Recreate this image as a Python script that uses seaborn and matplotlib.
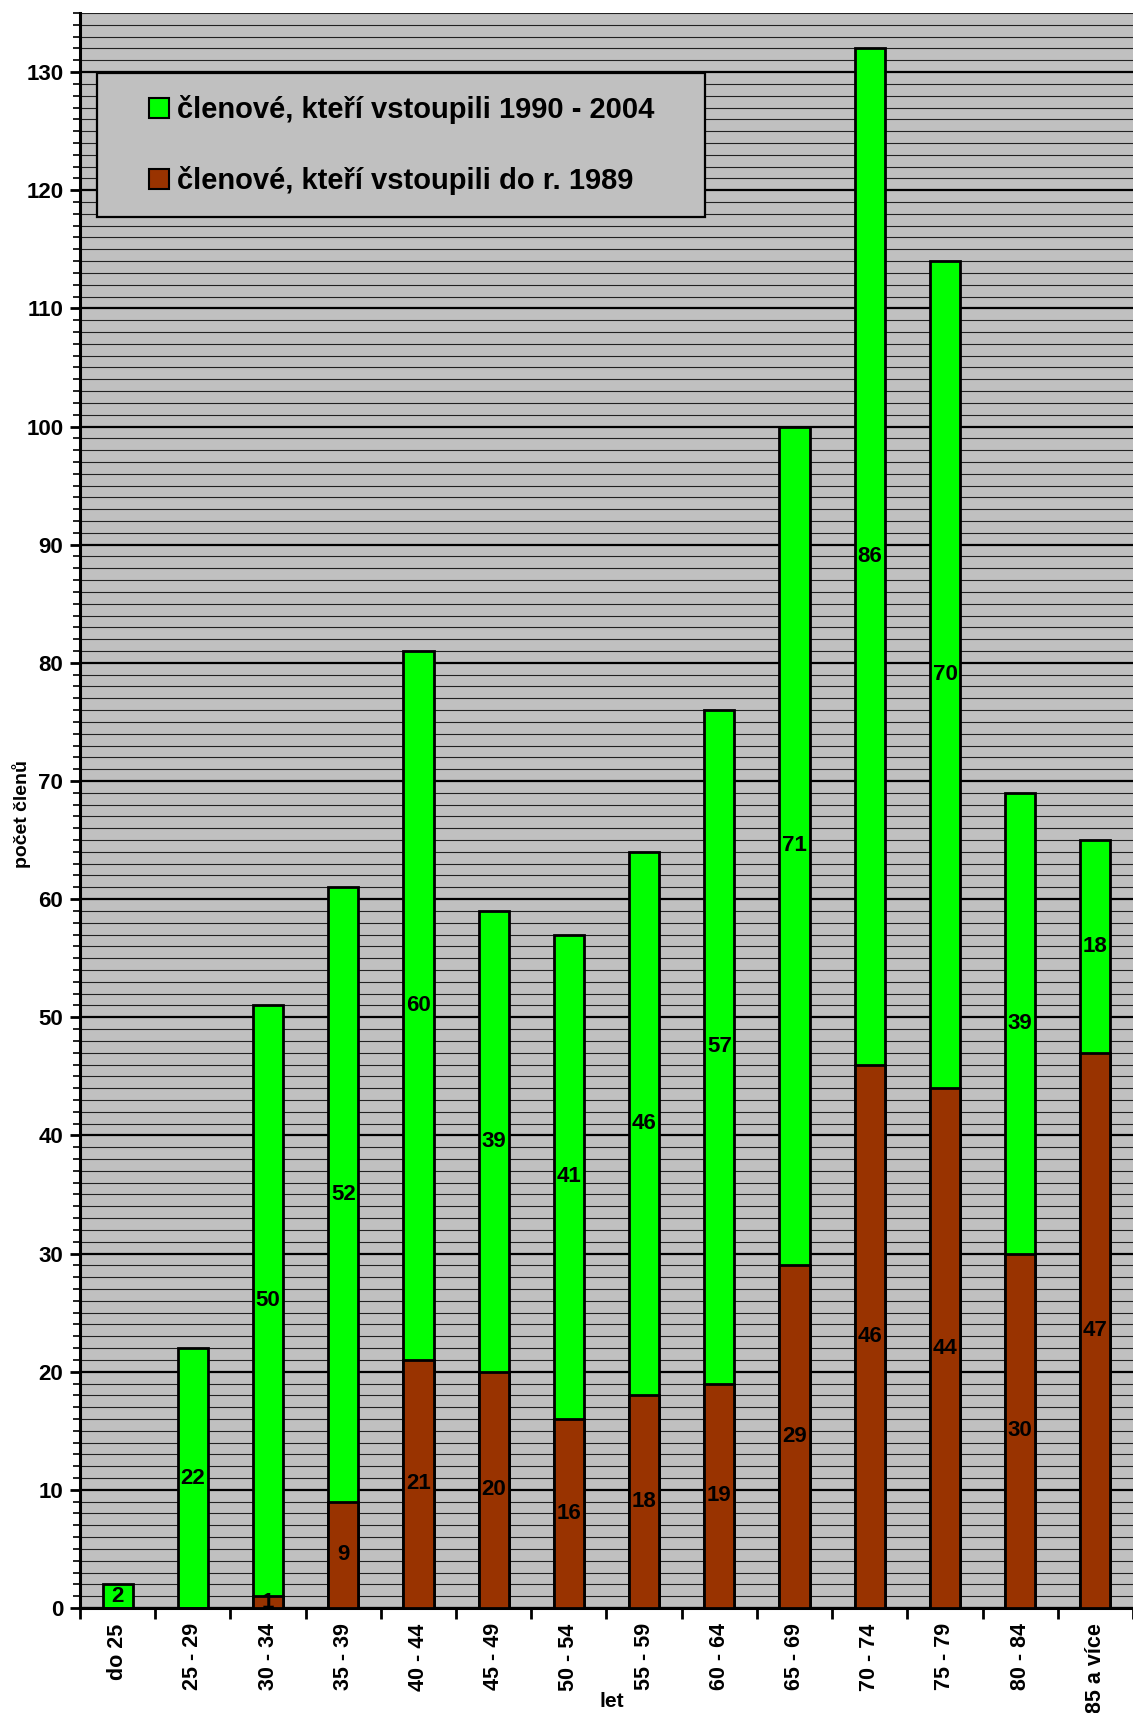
import numpy as np
import pandas as pd
import matplotlib
matplotlib.use("Agg")
import matplotlib.pyplot as plt
from matplotlib.patches import Rectangle
from matplotlib.ticker import MultipleLocator
import seaborn as sns

categories = ['do 25', '25 - 29', '30 - 34', '35 - 39', '40 - 44', '45 - 49', '50 - 54',
              '55 - 59', '60 - 64', '65 - 69', '70 - 74', '75 - 79', '80 - 84', '85 a více']
old_members = [0, 0, 1, 9, 21, 20, 16, 18, 19, 29, 46, 44, 30, 47]
new_members = [2, 22, 50, 52, 60, 39, 41, 46, 57, 71, 86, 70, 39, 18]
label_new = 'členové, kteří vstoupili 1990 - 2004'
label_old = 'členové, kteří vstoupili do r. 1989'

GREEN = '#00FF00'
BROWN = '#993300'

df = pd.DataFrame({'vek': categories, 'stari': old_members, 'novi': new_members})
df['celkem'] = df['stari'] + df['novi']

sns.set_style('white')
plt.rcParams['font.family'] = ['Liberation Sans', 'DejaVu Sans']
plt.rcParams['font.weight'] = 'bold'
plt.rcParams['text.color'] = 'black'
plt.rcParams['axes.labelcolor'] = 'black'
plt.rcParams['xtick.color'] = 'black'
plt.rcParams['ytick.color'] = 'black'

fig = plt.figure(figsize=(11.33, 17.13), dpi=100)
ax = fig.add_axes([0.0706, 0.0613, 0.9294, 0.9311])
ax.set_facecolor('#C0C0C0')

sns.barplot(data=df, x='vek', y='celkem', color=GREEN, saturation=1, width=0.4,
            edgecolor='black', linewidth=2, ax=ax, zorder=3)
sns.barplot(data=df, x='vek', y='stari', color=BROWN, saturation=1, width=0.4,
            edgecolor='black', linewidth=2, ax=ax, zorder=3)

# value labels centred in segments
for i, row in df.iterrows():
    if row['stari'] > 0:
        ax.text(i, row['stari'] / 2, str(row['stari']), ha='center', va='center',
                fontsize=16, fontweight='bold', color='black', zorder=5)
    if row['novi'] > 0:
        ax.text(i, row['stari'] + row['novi'] / 2, str(row['novi']), ha='center',
                va='center', fontsize=16, fontweight='bold', color='black', zorder=5)

ax.set_ylim(0, 135)
ax.set_xlim(-0.5, 13.37)
ax.yaxis.set_major_locator(MultipleLocator(10))
ax.yaxis.set_minor_locator(MultipleLocator(1))
ax.grid(axis='y', which='major', color='black', linewidth=1.6, zorder=1)
ax.grid(axis='y', which='minor', color='#222222', linewidth=0.8, zorder=1)
ax.set_axisbelow(True)

ax.set_xticks(range(len(categories)))
ax.set_xticklabels(categories, rotation=90, fontsize=15.5, fontweight='bold')
ax.set_xticks(np.arange(-0.5, len(categories), 1), minor=True)
ax.tick_params(axis='x', which='major', bottom=True, length=0, pad=11)
ax.tick_params(axis='x', which='minor', bottom=True, length=8, width=2, direction='out')
ax.tick_params(axis='y', which='major', left=True, length=7, width=2, direction='out',
               labelsize=16, pad=5)
ax.tick_params(axis='y', which='minor', left=True, length=5, width=1.2, direction='out')
for lab in ax.get_yticklabels():
    lab.set_fontweight('bold')

for side in ['top', 'right']:
    ax.spines[side].set_visible(False)
for side in ['left', 'bottom']:
    ax.spines[side].set_color('black')
    ax.spines[side].set_linewidth(2.2)

ax.set_xlabel('let', fontsize=15, fontweight='bold')
ax.set_ylabel('počet členů', fontsize=14, fontweight='bold')
ax.xaxis.set_label_coords(0.505, -0.0527)
ax.yaxis.set_label_coords(-0.0465, 0.498)

# legend box
ax.add_patch(Rectangle((0.0161, 0.8721), 0.5774, 0.0903, transform=ax.transAxes,
                       facecolor='#C0C0C0', edgecolor='black', linewidth=1.6, zorder=6))
handles = [Rectangle((0, 0), 1, 1, facecolor=GREEN, edgecolor='black', linewidth=1.5),
           Rectangle((0, 0), 1, 1, facecolor=BROWN, edgecolor='black', linewidth=1.5)]
leg = ax.legend(handles, [label_new, label_old], loc='center left',
                bbox_to_anchor=(0.0655, 0.9172), frameon=False, borderpad=0,
                fontsize=21, handlelength=0.7, handleheight=0.7, handletextpad=0.25,
                labelspacing=1.45, borderaxespad=0)
leg.set_zorder(7)
for t in leg.get_texts():
    t.set_fontweight('bold')
    t.set_color('black')

fig.savefig('out.png', dpi=100)
